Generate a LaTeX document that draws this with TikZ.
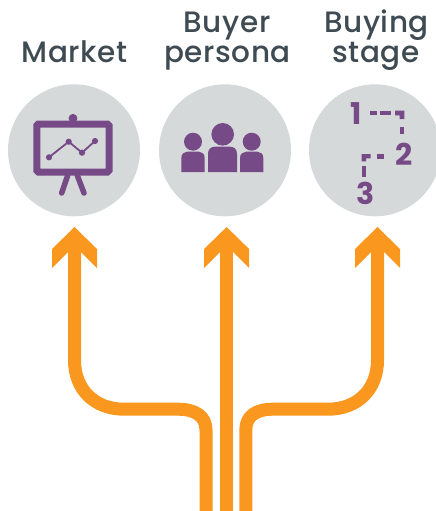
\documentclass[tikz,border=0pt]{standalone}
\usepackage{fontspec}
\setmainfont{Poppins}
\newfontfamily\headfont[LetterSpace=2]{Poppins Medium}
\definecolor{disc}{HTML}{D6D9DA}
\definecolor{plum}{HTML}{764A87}
\definecolor{amber}{HTML}{F9971F}
\definecolor{slate}{HTML}{3F4B53}
\tikzset{
  x=1pt,y=-1pt,
  disc/.style={circle,fill=disc,minimum size=132pt,inner sep=0pt},
  heading/.style={text=slate,font=\headfont\fontsize{29.5}{31}\selectfont,anchor=base,inner sep=0pt,align=center},
  digit/.style={text=plum,font=\fontsize{30}{30}\selectfont\bfseries,anchor=base,inner sep=0pt},
  flow/.style={draw=amber,line width=13pt,line cap=butt,line join=round},
  tiphead/.style={fill=amber},
  ink/.style={fill=plum},
  dashbit/.style={fill=plum},
  pics/chevron/.style={code={
    \path[tiphead] (0,-25) -- (22.5,-3) -- (22.5,16) -- (6.5,0) -- (-6.5,0) -- (-22.5,16) -- (-22.5,-3) -- cycle;
  }}
}
\begin{document}
\begin{tikzpicture}
\useasboundingbox (0,0) rectangle (436,511);
\clip (0,0) rectangle (436,511);

% discs
\node[disc] (market) at (74,150.3) {};
\node[disc] (persona) at (225,150.3) {};
\node[disc] (stage) at (375,150.3) {};

% headings
\node[heading] (t1) at (74.5,63) {Market};
\node[heading] (t2a) at (227,33) {Buyer};
\node[heading] (t2b) at (227.5,63) {persona};
\node[heading] (t3a) at (376.5,33) {Buying};
\node[heading] (t3b) at (376,63) {stage};

% market icon
\fill[ink] (73,118.3) circle (4.4);
\draw[plum,line width=7pt,rounded corners=1.5pt] (36.8,124) rectangle (109,172);
\draw[plum,line width=5.5pt,line cap=round] (67.5,176) -- (61.7,193);
\draw[plum,line width=5.5pt,line cap=round] (77.5,176) -- (84,193);
\coordinate (p1) at (49,157.3);
\coordinate (p2) at (68.7,141.7);
\coordinate (p3) at (82,152.7);
\coordinate (p4) at (95,141);
\draw[plum,line width=1.8pt] (p1) -- (p2) -- (p3) -- (p4);
\foreach \p in {p1,p2,p3,p4} \fill[ink] (\p) circle (3.1);

% persona icon
\fill[ink] (222.7,134.3) circle (11.3);
\fill[ink] (193,141.7) circle (9);
\fill[ink] (251.7,141.7) circle (9);
\fill[ink] (208,172) -- (208,154) .. controls (208,149) and (211,146.7) .. (215,146.7) -- (230,146.7) .. controls (234,146.7) and (237,149) .. (237,154) -- (237,172) -- cycle;
\fill[ink] (181.3,172) -- (181.3,158) .. controls (181.3,154) and (184,151.7) .. (187,151.7) -- (199,151.7) .. controls (202,151.7) and (204.7,154) .. (204.7,158) -- (204.7,172) -- cycle;
\fill[ink] (240,172) -- (240,158) .. controls (240,154) and (243,151.7) .. (246,151.7) -- (257.5,151.7) .. controls (260.5,151.7) and (263.3,154) .. (263.3,158) -- (263.3,172) -- cycle;

% stage icon
\node[digit] (n1) at (356,124) {1};
\node[digit] (n2) at (404,165) {2};
\node[digit] (n3) at (366,204) {3};
\fill[dashbit] (370,110.7) rectangle (377.3,115.3);
\fill[dashbit] (380,110.7) rectangle (390.7,115.3);
\fill[dashbit] (395,110.7) -- (404.3,110.7) -- (404.3,119) -- (399.7,119) -- (399.7,115.3) -- (395,115.3) -- cycle;
\fill[dashbit] (399.7,127) rectangle (404.3,133.5);
\fill[dashbit] (361.5,154) -- (370.7,154) -- (370.7,158.4) -- (366,158.4) -- (366,161.3) -- (361.5,161.3) -- cycle;
\fill[dashbit] (361.5,165.7) rectangle (366,176.7);
\fill[dashbit] (377.3,154) rectangle (384,158.6);

% arrows
\coordinate (leftfoot) at (206,511);
\coordinate (midfoot) at (226.6,511);
\coordinate (rightfoot) at (245.8,511);
\coordinate (lefthead) at (74.5,252);
\coordinate (midhead) at (226.6,252);
\coordinate (righthead) at (377.5,252);
\draw[flow] (leftfoot) -- (206,430) .. controls (206,416) and (195,409.2) .. (178,409.2)
  -- (124,409.2) .. controls (95,409.2) and (74.5,390) .. (74.5,360) -- (lefthead);
\draw[flow] (midfoot) -- (midhead);
\draw[flow] (rightfoot) -- (245.8,430) .. controls (245.8,416) and (256,409.2) .. (273,409.2)
  -- (328,409.2) .. controls (357,409.2) and (377.5,390) .. (377.5,360) -- (righthead);
\pic at (lefthead) {chevron};
\pic at (midhead) {chevron};
\pic at (righthead) {chevron};
\end{tikzpicture}
\end{document}
